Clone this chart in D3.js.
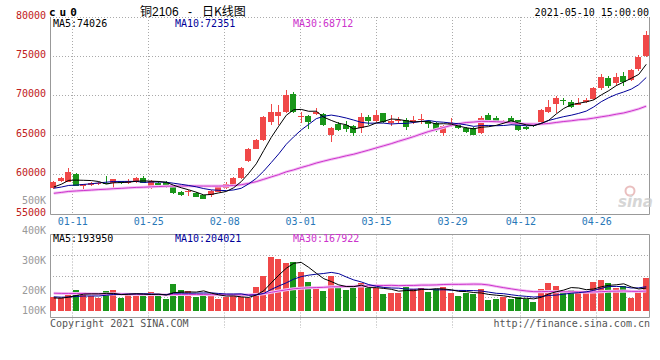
<!DOCTYPE html>
<html><head><meta charset="utf-8">
<script src="https://cdn.jsdelivr.net/npm/d3@7"></script>
<style>
html,body{margin:0;padding:0;background:#fff;}
svg{display:block;}
</style></head><body>
<svg id="c" width="660" height="360"></svg>
<script>
// ---------- data ----------
const dates = ["01-06","01-07","01-08","01-11","01-12","01-13","01-14","01-15","01-18","01-19","01-20","01-21","01-22","01-25","01-26","01-27","01-28","01-29",
"02-01","02-02","02-03","02-04","02-05","02-08","02-09","02-10","02-18","02-19","02-22","02-23","02-24","02-25","02-26",
"03-01","03-02","03-03","03-04","03-05","03-08","03-09","03-10","03-11","03-12","03-15","03-16","03-17","03-18","03-19","03-22","03-23","03-24","03-25","03-26","03-29","03-30","03-31",
"04-01","04-02","04-06","04-07","04-08","04-09","04-12","04-13","04-14","04-15","04-16","04-19","04-20","04-21","04-22","04-23","04-26","04-27","04-28","04-29","04-30",
"05-06","05-07","05-10"];
const opens = [58270,59240,59110,60050,58560,58700,58850,58990,58990,59200,58900,59030,59540,58270,58950,59110,58400,57760,
57800,57630,57380,57420,57840,58270,58560,59540,61740,63310,64410,66670,67500,67940,70230,
67300,67470,67720,67700,65000,66400,66350,66150,65900,67380,66850,67810,66620,66800,66960,66750,66950,66850,66600,65270,66450,66450,65900,
65900,65340,67590,67170,66540,67170,66900,66000,66320,66670,68010,68960,69500,69290,68870,69290,69590,71000,72230,71630,72560,
72050,73450,75140];
const highs = [59250,59750,60810,60180,58850,59050,59050,59870,59450,59250,59400,59650,59800,59300,59240,59240,58500,57900,
58100,57800,57450,58000,58550,59110,59750,61000,63350,64550,67400,68990,68900,70770,70560,
68000,67600,68450,67900,66050,66700,66800,66300,67890,67590,68230,67900,67590,67300,67250,67500,67700,67000,66700,66300,67170,66600,66100,
66000,67470,67890,67400,67000,67500,67000,66150,66450,68350,69500,70010,69800,69500,69720,69700,71190,72770,72600,72900,73100,
73400,75200,78300];
const lows = [58150,59030,59050,58550,58140,58600,58700,58750,58350,58850,58850,58950,58900,58200,58600,58270,57550,57300,
57250,57100,56850,57200,57750,58200,58500,59450,61580,63200,64300,66320,66320,67800,67800,
66600,65800,67600,66200,64100,65500,65450,64900,65340,66320,66750,66600,66190,66500,65700,66450,66450,65900,65400,64920,66100,65800,65300,
65000,65200,66800,66600,66400,66300,65600,65700,66100,66500,67900,67810,68900,68500,68800,69100,69500,70800,70990,71300,71300,
71900,73190,74900];
const closes = [59110,59540,60380,58600,58780,58950,58920,58780,59410,58900,59200,59540,58990,59240,58700,58690,57630,57420,
57930,57200,56950,57930,58400,58820,59620,60810,63230,64410,67300,67940,67940,70140,67940,
67500,66750,68000,66320,65900,65700,65800,65300,67270,66850,67640,66740,66870,66960,66030,66900,67100,66500,65690,66190,66600,65900,65400,
65050,67170,66960,66750,66770,66640,65700,65800,66200,68200,68650,69720,69300,68570,69150,69500,71000,72450,71280,72350,71800,
73320,74960,77700];
const volumes = [116000,107000,150000,177000,161000,127000,110000,169000,177000,110000,144000,127000,155000,161000,127000,104000,228000,177000,
169000,121000,155000,135000,104000,116000,127000,116000,110000,205000,296000,459000,442000,403000,417000,
332000,248000,197000,172000,296000,192000,177000,192000,234000,192000,192000,144000,155000,155000,220000,183000,197000,158000,186000,205000,150000,130000,150000,
145000,185000,90000,98000,122000,98000,122000,98000,72000,188000,240000,215000,169000,178000,169000,169000,245000,262000,239000,192000,211000,
112000,177000,276000];
// closes / volumes of the 29 sessions before the window (estimated from the MA lines at the left edge)
const priorCloses = [56200,56500,56900,57100,57300,57000,57200,57500,57600,57400,
57800,58200,57900,57600,57300,57200,57400,57500,57300,57300,
58000,58300,58200,57900,58150,57800,57900,58440,58900];
const priorVolumes = [150000,170000,180000,160000,175000,190000,165000,155000,170000,160000,
180000,175000,150000,160000,170000,165000,155000,160000,150000,170000,
140000,135000,130000,125000,120000,115000,105000,110000,104000];
const maPeriods = [5,10,30];
const maPriceLegend = [74026,72351,68712];
const maVolLegend = [193950,204021,167922];
const priceTicks = [60000,65000,70000,75000,80000];
const priceLabels = [55000,60000,65000,70000,75000,80000];
const dateTicks = ["01-11","01-25","02-08","03-01","03-15","03-29","04-12","04-26"];
const volLabels = [500000,400000,300000,200000,100000];

// ---------- layout ----------
const L = 50, R = 650, T = 17, B = 214;       // price panel
const VT = 234.5, VB = 317.5, VBASE = 311;    // volume panel
const UP = "#f04848", DOWN = "#1a961a";
const maColors = {5:"#000000",10:"#000099",30:"#cc33cc"};
const mono = "'DejaVu Sans Mono','Liberation Mono',monospace";

const svg = d3.select("#c");
const x = d3.scaleBand().domain(dates).range([L, R]).padding(0);
const cx = d => x(d) + x.bandwidth()/2;
const xt = d3.scaleLinear().domain([0, dates.length-1]).range([L, R]);
const y = d3.scaleLinear().domain([55000, 80000]).range([B, 17.3]);
const yv = d3.scaleLinear().domain([0, 500000]).range([VBASE, VBASE - 500/8.45]);
const yvLab = d3.scaleLinear().domain([0, 500000]).range([350, 200]);

const data = dates.map((d,i)=>({d,i,o:opens[i],h:highs[i],l:lows[i],c:closes[i],v:volumes[i]}));
function ma(arr, prior, n){
  const all = prior.concat(arr);
  return arr.map((_,i)=>{ const k=i+prior.length; return d3.mean(all.slice(k-n+1,k+1)); });
}
const px = v => Math.floor(v) + 0.5;

// ---------- grid & frames ----------
const g = svg.append("g");
const dot = sel => sel.attr("stroke","#aaa").attr("stroke-width",1).attr("stroke-dasharray","1,2").attr("fill","none");
dateTicks.forEach(t=>{
  const xx = px(xt(dates.indexOf(t)));
  dot(g.append("line").attr("x1",xx).attr("x2",xx).attr("y1",T).attr("y2",B));
  dot(g.append("line").attr("x1",xx).attr("x2",xx).attr("y1",VT).attr("y2",328));
});
priceTicks.forEach(p=>{
  const yy = px(y(p));
  dot(g.append("line").attr("x1",L).attr("x2",R).attr("y1",yy).attr("y2",yy));
});
[1,2,3].forEach(k=>{
  const yy = px(VT + (VB-VT+1)*k/4);
  dot(g.append("line").attr("x1",L).attr("x2",R).attr("y1",yy).attr("y2",yy));
});
const solid = sel => sel.attr("stroke","#999").attr("stroke-width",1).attr("fill","none");
solid(g.append("path").attr("d",`M${L+0.5},${T}V${B+0.5}H${R-0.5}V${T}`));
solid(g.append("path").attr("d",`M${L+0.5},${VT}V${VB}H${R-0.5}V${VT}H${L+0.5}`));

// ---------- candles & volume bars ----------
const cg = svg.append("g");
data.forEach(k=>{
  const col = k.c >= k.o ? UP : DOWN;
  const xx = Math.floor(cx(k.d));
  cg.append("line").attr("x1",xx+0.5).attr("x2",xx+0.5)
    .attr("y1",Math.round(y(k.h))).attr("y2",Math.round(y(k.l))).attr("stroke",col).attr("stroke-width",1);
  const top = Math.round(y(Math.max(k.o,k.c))), bot = Math.round(y(Math.min(k.o,k.c)));
  cg.append("rect").attr("x",xx-3).attr("width",6).attr("y",top).attr("height",Math.max(1,bot-top)).attr("fill",col);
  const vt = Math.round(yv(k.v));
  cg.append("rect").attr("x",xx-3).attr("width",6).attr("y",vt).attr("height",VBASE-vt).attr("fill",col);
});

// ---------- MA lines ----------
svg.append("clipPath").attr("id","cp").append("rect").attr("x",L+1).attr("y",T+1).attr("width",R-L-2).attr("height",B-T-1);
svg.append("clipPath").attr("id","cv").append("rect").attr("x",L+1).attr("y",VT+1).attr("width",R-L-2).attr("height",VB-VT-1);
const lp = svg.append("g").attr("clip-path","url(#cp)");
const lv = svg.append("g").attr("clip-path","url(#cv)");
[30,10,5].forEach(n=>{
  const mp = ma(closes, priorCloses, n), mv = ma(volumes, priorVolumes, n);
  const lineP = d3.line().x((_,i)=>cx(dates[i])).y(v=>y(v));
  const lineV = d3.line().x((_,i)=>cx(dates[i])).y(v=>yv(v));
  if(n===30){
    lp.append("path").attr("d",lineP(mp)).attr("fill","none").attr("stroke","#f4c4f4").attr("stroke-width",3);
    lv.append("path").attr("d",lineV(mv)).attr("fill","none").attr("stroke","#f4c4f4").attr("stroke-width",3);
  }
  lp.append("path").attr("d",lineP(mp)).attr("fill","none").attr("stroke",maColors[n]).attr("stroke-width",1);
  lv.append("path").attr("d",lineV(mv)).attr("fill","none").attr("stroke",maColors[n]).attr("stroke-width",1);
});

// ---------- text ----------
const tg = svg.append("g").attr("font-family",mono).attr("font-size",10);
priceLabels.forEach(p=>{
  tg.append("text").attr("x",46).attr("y",y(p)+1.5).attr("text-anchor","end").attr("fill","#c02020").text(p);
});
volLabels.forEach(v=>{
  tg.append("text").attr("x",46).attr("y",Math.min(yvLab(v),310.7)+3.5).attr("text-anchor","end").attr("fill","#999").text(d3.format("d")(v/1000)+"K");
});
dateTicks.forEach(t=>{
  tg.append("text").attr("x",xt(dates.indexOf(t))).attr("y",225).attr("text-anchor","middle").attr("fill","#2878b8").text(t);
});
const legX = {5:53,10:175,30:293};
maPeriods.forEach((n,j)=>{
  tg.append("text").attr("x",legX[n]).attr("y",26.5).attr("fill",maColors[n]).text(`MA${n}:${maPriceLegend[j]}`);
  tg.append("text").attr("x",legX[n]).attr("y",241.5).attr("fill",maColors[n]).text(`MA${n}:${maVolLegend[j]}`);
});
tg.append("text").attr("x",649).attr("y",15.5).attr("text-anchor","end").attr("fill","#000").text("2021-05-10 15:00:00");
tg.append("text").attr("x",50).attr("y",327).attr("fill","#555").text("Copyright 2021 SINA.COM");
tg.append("text").attr("x",650).attr("y",327).attr("text-anchor","end").attr("fill","#555").text("http://finance.sina.com.cn");
svg.append("text").attr("x",49).attr("y",16).attr("font-family",mono).attr("font-weight","bold").attr("font-size",11)
  .attr("letter-spacing","4px").attr("fill","#000").text("cu0");
const tt = svg.append("text").attr("y",15.5).attr("font-size",12).attr("fill","#000")
  .attr("font-family","'Liberation Sans','Noto Sans CJK SC',sans-serif");
tt.append("tspan").attr("x",140).text("铜2106");
tt.append("tspan").attr("x",188).text("-");
tt.append("tspan").attr("x",202).attr("font-family","'Noto Sans CJK SC',sans-serif").text("日K线图");
// sina watermark
const wm = svg.append("g").attr("opacity",0.8);
wm.append("circle").attr("cx",630).attr("cy",191).attr("r",4.5).attr("fill","none").attr("stroke","#e6b0b0").attr("stroke-width",2);
wm.append("text").attr("x",618).attr("y",207).attr("font-family","'DejaVu Sans',sans-serif").attr("font-style","italic")
  .attr("font-weight","bold").attr("font-size",15).attr("fill","#cccccc").text("sina");
</script>
</body></html>
